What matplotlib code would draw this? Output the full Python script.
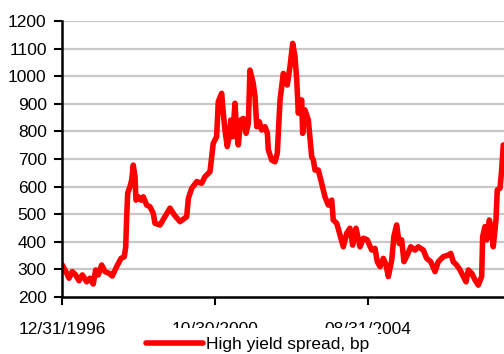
import matplotlib
matplotlib.use("Agg")
from matplotlib import pyplot as plt
import pandas as pd

plt.rcParams['font.family'] = ['Liberation Sans', 'DejaVu Sans']

# high yield spread (bp), read point by point
dates = [
    '1997-01-03', '1997-02-12', '1997-03-05', '1997-04-04', '1997-05-05',
    '1997-06-05', '1997-07-05', '1997-08-14', '1997-09-13', '1997-10-13',
    '1997-11-04', '1997-11-28', '1997-12-29', '1998-01-28', '1998-03-06',
    '1998-04-05', '1998-05-15', '1998-06-24', '1998-07-24', '1998-08-06',
    '1998-08-15', '1998-08-24', '1998-09-14', '1998-09-30', '1998-10-14',
    '1998-10-30', '1998-11-08', '1998-11-29', '1998-12-24', '1999-01-14',
    '1999-02-14', '1999-03-16', '1999-04-15', '1999-05-01', '1999-06-16',
    '1999-07-31', '1999-09-15', '1999-10-25', '1999-12-16', '2000-02-15',
    '2000-03-01', '2000-04-01', '2000-05-17', '2000-07-01', '2000-07-31',
    '2000-09-15', '2000-10-01', '2000-10-15', '2000-11-15', '2000-11-30',
    '2000-12-31', '2001-01-15', '2001-01-30', '2001-02-20', '2001-03-11',
    '2001-03-24', '2001-04-11', '2001-05-02', '2001-05-18', '2001-06-01',
    '2001-06-23', '2001-07-17', '2001-08-11', '2001-09-01', '2001-09-16',
    '2001-10-16', '2001-11-01', '2001-11-17', '2001-12-10', '2002-01-01',
    '2002-01-31', '2002-02-22', '2002-03-03', '2002-04-03', '2002-05-03',
    '2002-05-24', '2002-06-18', '2002-07-18', '2002-08-23', '2002-09-17',
    '2002-10-12', '2002-11-02', '2002-11-18', '2002-12-02', '2003-01-02',
    '2003-01-11', '2003-02-01', '2003-03-04', '2003-04-04', '2003-04-19',
    '2003-05-04', '2003-06-03', '2003-07-04', '2003-08-03', '2003-09-03',
    '2003-10-04', '2003-10-18', '2003-11-19', '2003-12-19', '2004-01-18',
    '2004-02-18', '2004-03-19', '2004-04-13', '2004-05-13', '2004-06-19',
    '2004-07-19', '2004-08-24', '2004-10-04', '2004-11-03', '2004-11-24',
    '2004-12-19', '2005-01-18', '2005-02-12', '2005-03-05', '2005-04-05',
    '2005-04-25', '2005-05-20', '2005-06-13', '2005-07-05', '2005-07-26',
    '2005-08-25', '2005-09-26', '2005-11-04', '2005-12-04', '2006-01-19',
    '2006-02-19', '2006-03-28', '2006-05-06', '2006-06-05', '2006-07-21',
    '2006-09-05', '2006-09-27', '2006-10-20', '2006-11-20', '2006-12-21',
    '2007-01-20', '2007-02-14', '2007-03-07', '2007-04-07', '2007-05-07',
    '2007-06-06', '2007-07-07', '2007-07-16', '2007-08-06', '2007-08-22',
    '2007-09-15', '2007-10-07', '2007-10-21', '2007-11-15', '2007-11-27',
    '2007-12-22', '2008-01-06', '2008-01-21',
]
spread = [
    316, 286, 268, 292, 280,
    259, 280, 255, 268, 247,
    298, 280, 316, 292, 286,
    276, 310, 340, 346, 382,
    491, 576, 600, 624, 678,
    636, 551, 563, 551, 563,
    533, 527, 503, 467, 461,
    491, 522, 497, 473, 491,
    557, 594, 618, 612, 636,
    654, 708, 757, 781, 908,
    938, 866, 805, 745, 781,
    841, 781, 902, 793, 751,
    841, 847, 793, 829, 1022,
    974, 926, 817, 835, 805,
    817, 793, 733, 696, 690,
    721, 914, 1010, 968, 1034,
    1119, 1071, 986, 866, 914,
    793, 878, 841, 708, 696,
    660, 660, 612, 563, 533,
    551, 479, 467, 425, 382,
    431, 449, 388, 449, 382,
    413, 407, 370, 376, 328,
    310, 340, 316, 274, 334,
    420, 461, 394, 407, 328,
    352, 382, 370, 382, 370,
    340, 328, 292, 328, 346,
    352, 358, 328, 316, 298,
    274, 255, 298, 286, 262,
    243, 274, 418, 455, 407,
    479, 443, 382, 479, 588,
    594, 660, 751,
]
tick_dates = ['1996-12-31', '2000-10-30', '2004-08-31']
tick_labels = ['12/31/1996', '10/30/2000', '08/31/2004']
y_ticks = list(range(200, 1300, 100))

x = pd.to_datetime(dates)

fig = plt.figure(figsize=(5.04, 3.54), dpi=100)
ax = fig.add_axes([62 / 504, 57 / 354, 446 / 504, 276 / 354])

ax.plot(x, spread, color='#ff0000', lw=4, solid_joinstyle='round',
        solid_capstyle='round', label='High yield spread, bp', zorder=3)

ax.set_ylim(200, 1200)
ax.set_yticks(y_ticks)
ax.set_xlim(pd.Timestamp('1996-12-31'), pd.Timestamp('2008-03-04'))
ax.set_xticks(pd.to_datetime(tick_dates))
ax.set_xticklabels(tick_labels)

# grey horizontal grid, the 200 line is the x axis itself
for v in y_ticks[1:]:
    ax.axhline(v, color='#c8c8c8', lw=1.6, zorder=1)

for s in ['top', 'right']:
    ax.spines[s].set_visible(False)
for s in ['left', 'bottom']:
    ax.spines[s].set_linewidth(1.8)
    ax.spines[s].set_zorder(4)

ax.tick_params(axis='y', length=6, width=1.5, pad=5, labelsize=12.5)
ax.tick_params(axis='x', length=6, width=1.5, pad=12, labelsize=12.5)

# legend sits on top of the lower half of the date labels
fig.legend(loc='center left', bbox_to_anchor=(137 / 504, 1 - 344 / 354),
           fontsize=12.5, frameon=True, facecolor='white', edgecolor='none',
           framealpha=1, fancybox=False, borderpad=0.5, borderaxespad=0,
           handlelength=3.3, handletextpad=0.2)

fig.savefig('out.png', dpi=100)
